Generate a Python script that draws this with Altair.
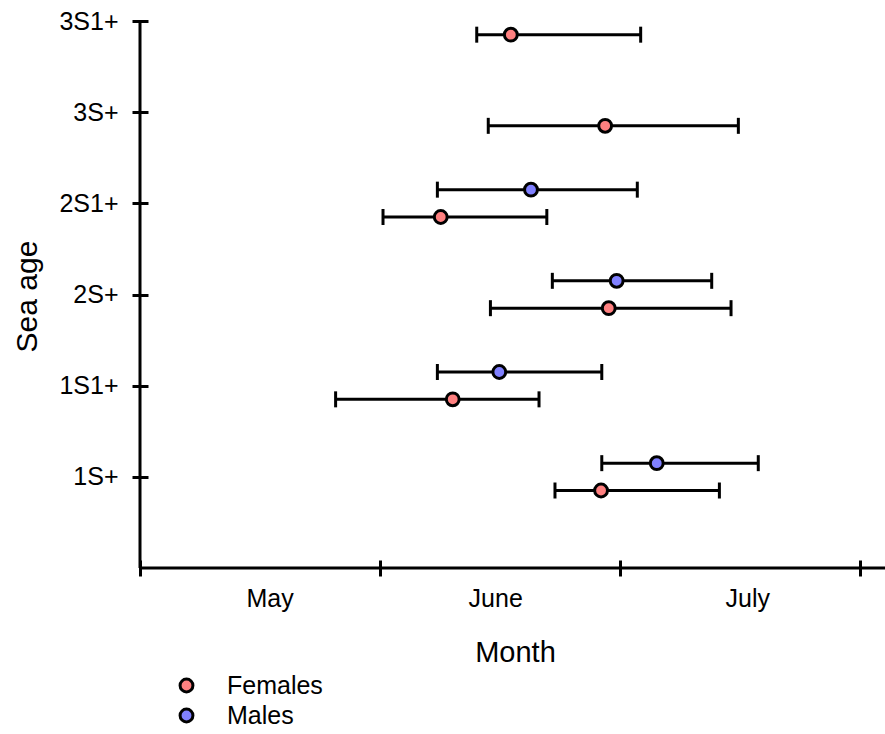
import altair as alt
import pandas as pd
import json

# ---- data (x in months since 1 May) ----
ages = ["1S+", "1S1+", "2S+", "2S1+", "3S+", "3S1+"]

female_mean = [1.921, 1.303, 1.953, 1.253, 1.938, 1.545]
female_lo = [1.729, 0.815, 1.460, 1.0125, 1.451, 1.403]
female_hi = [2.414, 1.6625, 2.4625, 1.695, 2.493, 2.086]

male_ages = ["1S+", "1S1+", "2S+", "2S1+"]
male_mean = [2.153, 1.497, 1.986, 1.629]
male_lo = [1.924, 1.239, 1.718, 1.239]
male_hi = [2.576, 1.924, 2.382, 2.072]

month_ticks = [0, 1, 2, 3]
month_labels = ["May", "June", "July"]
month_label_at = [0.54, 1.48, 2.53]
age_ticks = [1, 2, 3, 4, 5, 6]

sexes = ["Females", "Males"]
colors = ["#FF8080", "#8080FF"]

rows = []
for a, m, lo, hi in zip(ages, female_mean, female_lo, female_hi):
    rows.append({"age": a, "sex": "Females", "mean": m, "lo": lo, "hi": hi})
for a, m, lo, hi in zip(male_ages, male_mean, male_lo, male_hi):
    rows.append({"age": a, "sex": "Males", "mean": m, "lo": lo, "hi": hi})
df = pd.DataFrame(rows)

FONT = "Liberation Sans"

xscale = alt.Scale(domain=[0, 3.104], nice=False, zero=False)
yscale = alt.Scale(domain=[0, 6], nice=False, zero=False)

lab_pos = json.dumps(month_label_at)
lab_txt = json.dumps(month_labels)
xaxis = alt.Axis(
    values=sorted(month_ticks + month_label_at),
    labelExpr=f"indexof({lab_pos}, datum.value) >= 0 ? {lab_txt}[indexof({lab_pos}, datum.value)] : ''",
    tickOpacity={"condition": {"test": "datum.value % 1 === 0", "value": 1}, "value": 0},
    tickSize=16, tickWidth=3, tickColor="black",
    domain=False, offset=-8, grid=False,
    labelFont=FONT, labelFontSize=25, labelColor="black", labelPadding=10,
    labelFlush=False, labelOverlap=False,
    title="Month", titleFont=FONT, titleFontSize=29, titleFontWeight="normal",
    titleColor="black", titleX=375, titleY=92, titleBaseline="middle", titleAlign="center",
)
yaxis = alt.Axis(
    values=age_ticks,
    labelExpr=f"{json.dumps(ages)}[datum.value - 1]",
    tickSize=16, tickWidth=3, tickColor="black",
    domain=False, offset=-8, grid=False,
    labelFont=FONT, labelFontSize=25, labelColor="black", labelPadding=14,
    labelFlush=False, labelOverlap=False,
    title="Sea age", titleFont=FONT, titleFontSize=30, titleFontWeight="normal",
    titleColor="black", titleX=-121, titleY=275, titleBaseline="middle", titleAlign="center",
)

ypos_expr = (
    f"indexof({json.dumps(ages)}, datum.age) + 1 + (datum.sex === 'Males' ? 0.15 : -0.15)"
)
base = alt.Chart(df).transform_calculate(ypos=ypos_expr)

Y = alt.Y("ypos:Q", scale=yscale, axis=yaxis)

bars = base.mark_rule(color="black", strokeWidth=3).encode(
    x=alt.X("lo:Q", scale=xscale, axis=xaxis), x2="hi:Q", y=Y
)
caps = base.transform_fold(["lo", "hi"], as_=["end", "xv"]).mark_tick(
    orient="vertical", size=16, thickness=3, color="black", opacity=1
).encode(x=alt.X("xv:Q", scale=xscale, axis=xaxis), y=Y)

points = base.mark_circle(size=165, stroke="black", strokeWidth=3, opacity=1).encode(
    x=alt.X("mean:Q", scale=xscale, axis=xaxis),
    y=Y,
    fill=alt.Fill(
        "sex:N",
        scale=alt.Scale(domain=sexes, range=colors),
        legend=alt.Legend(
            orient="none", legendX=34, legendY=652, title=None, padding=0,
            labelFont=FONT, labelFontSize=25, labelColor="black",
            symbolType="circle", symbolSize=165, symbolStrokeColor="black",
            symbolStrokeWidth=3, symbolOpacity=1, labelOffset=28, rowPadding=4,
        ),
    ),
)

one = alt.Chart(pd.DataFrame({"k": [0]}))
ydom = one.mark_rule(color="black", strokeWidth=3).encode(
    x=alt.X(datum=0, type="quantitative", scale=xscale, axis=xaxis)
)
xdom = one.mark_rule(color="black", strokeWidth=3).encode(
    y=alt.Y(datum=0, type="quantitative", scale=yscale, axis=yaxis)
)

chart = (
    alt.layer(ydom, xdom, bars, caps, points)
    .properties(
        width=745, height=547,
        autosize=alt.AutoSizeParams(type="none"),
        padding={"left": 140, "top": 21, "right": 0, "bottom": 166},
        background="white",
    )
    .configure_view(stroke=None)
)

chart.save("out.html", embed_options={"renderer": "svg", "actions": False})
